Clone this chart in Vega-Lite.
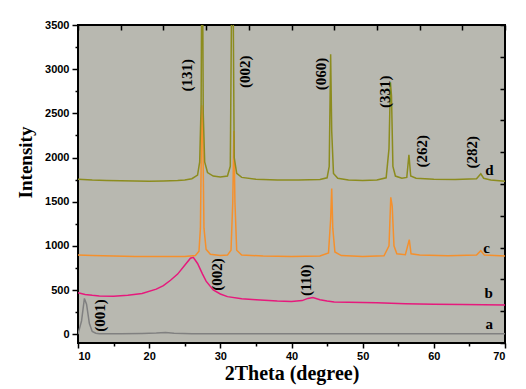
{
  "$schema": "https://vega.github.io/schema/vega-lite/v6.json",
  "width": 427,
  "height": 318,
  "autosize": {"type": "none"},
  "padding": {"left": 78, "top": 25, "right": 21, "bottom": 46},
  "background": "white",
  "config": {
    "view": {"fill": "#b8b8b0", "stroke": "black", "strokeWidth": 2},
    "axis": {"domain": false, "tickColor": "black", "labelColor": "black", "labelFont": "Liberation Sans", "labelFontWeight": "bold", "labelFontSize": 11, "grid": false, "tickWidth": 1.5}
  },
  "datasets": {
    "curves": [
      {"s":"a","x":10,"y":0},{"s":"a","x":10.5,"y":150},{"s":"a","x":10.9,"y":405},{"s":"a","x":11.2,"y":340},{"s":"a","x":11.6,"y":120},{"s":"a","x":12,"y":30},{"s":"a","x":12.5,"y":10},{"s":"a","x":13,"y":5},{"s":"a","x":16,"y":5},{"s":"a","x":19,"y":8},{"s":"a","x":21,"y":12},{"s":"a","x":22.3,"y":18},{"s":"a","x":23.5,"y":10},{"s":"a","x":26,"y":5},{"s":"a","x":35,"y":5},{"s":"a","x":45,"y":5},{"s":"a","x":55,"y":5},{"s":"a","x":70,"y":5},
      {"s":"b","x":10,"y":470},{"s":"b","x":11,"y":450},{"s":"b","x":12,"y":440},{"s":"b","x":13,"y":432},{"s":"b","x":15,"y":430},{"s":"b","x":17,"y":440},{"s":"b","x":19,"y":460},{"s":"b","x":21,"y":510},{"s":"b","x":22,"y":550},{"s":"b","x":23,"y":610},{"s":"b","x":24,"y":680},{"s":"b","x":25,"y":780},{"s":"b","x":25.8,"y":860},{"s":"b","x":26.2,"y":870},{"s":"b","x":26.8,"y":800},{"s":"b","x":27.5,"y":680},{"s":"b","x":28,"y":600},{"s":"b","x":29,"y":500},{"s":"b","x":30,"y":455},{"s":"b","x":31,"y":425},{"s":"b","x":33,"y":400},{"s":"b","x":35,"y":390},{"s":"b","x":38,"y":375},{"s":"b","x":40,"y":370},{"s":"b","x":41.5,"y":380},{"s":"b","x":42.3,"y":405},{"s":"b","x":43,"y":415},{"s":"b","x":44,"y":390},{"s":"b","x":45,"y":375},{"s":"b","x":46,"y":365},{"s":"b","x":48,"y":360},{"s":"b","x":52,"y":355},{"s":"b","x":56,"y":345},{"s":"b","x":60,"y":340},{"s":"b","x":64,"y":335},{"s":"b","x":70,"y":330},
      {"s":"c","x":10,"y":895},{"s":"c","x":12,"y":890},{"s":"c","x":15,"y":885},{"s":"c","x":18,"y":880},{"s":"c","x":20,"y":878},{"s":"c","x":23,"y":878},{"s":"c","x":25,"y":880},{"s":"c","x":26.5,"y":890},{"s":"c","x":27,"y":940},{"s":"c","x":27.2,"y":1200},{"s":"c","x":27.4,"y":2590},{"s":"c","x":27.55,"y":2200},{"s":"c","x":27.7,"y":1200},{"s":"c","x":28,"y":960},{"s":"c","x":28.6,"y":905},{"s":"c","x":30,"y":890},{"s":"c","x":31,"y":895},{"s":"c","x":31.5,"y":950},{"s":"c","x":31.75,"y":1500},{"s":"c","x":31.9,"y":2300},{"s":"c","x":32.05,"y":1500},{"s":"c","x":32.3,"y":950},{"s":"c","x":33,"y":895},{"s":"c","x":36,"y":885},{"s":"c","x":40,"y":880},{"s":"c","x":44,"y":885},{"s":"c","x":45.2,"y":920},{"s":"c","x":45.5,"y":1300},{"s":"c","x":45.65,"y":1650},{"s":"c","x":45.8,"y":1200},{"s":"c","x":46.1,"y":930},{"s":"c","x":47,"y":890},{"s":"c","x":50,"y":880},{"s":"c","x":53,"y":888},{"s":"c","x":53.7,"y":1000},{"s":"c","x":53.95,"y":1550},{"s":"c","x":54.15,"y":1450},{"s":"c","x":54.4,"y":1000},{"s":"c","x":54.8,"y":910},{"s":"c","x":56,"y":900},{"s":"c","x":56.55,"y":1070},{"s":"c","x":56.8,"y":910},{"s":"c","x":58,"y":895},{"s":"c","x":62,"y":888},{"s":"c","x":66,"y":895},{"s":"c","x":66.6,"y":945},{"s":"c","x":67.1,"y":895},{"s":"c","x":70,"y":885},
      {"s":"d","x":10,"y":1755},{"s":"d","x":12,"y":1745},{"s":"d","x":14,"y":1740},{"s":"d","x":16,"y":1738},{"s":"d","x":18,"y":1735},{"s":"d","x":20,"y":1732},{"s":"d","x":22,"y":1735},{"s":"d","x":24,"y":1740},{"s":"d","x":25,"y":1745},{"s":"d","x":26,"y":1760},{"s":"d","x":26.8,"y":1800},{"s":"d","x":27.1,"y":1950},{"s":"d","x":27.3,"y":2600},{"s":"d","x":27.45,"y":5000},{"s":"d","x":27.6,"y":2500},{"s":"d","x":27.8,"y":1950},{"s":"d","x":28.2,"y":1830},{"s":"d","x":29,"y":1790},{"s":"d","x":30,"y":1780},{"s":"d","x":31,"y":1790},{"s":"d","x":31.4,"y":1900},{"s":"d","x":31.7,"y":5000},{"s":"d","x":31.95,"y":2000},{"s":"d","x":32.3,"y":1820},{"s":"d","x":33,"y":1775},{"s":"d","x":35,"y":1755},{"s":"d","x":38,"y":1745},{"s":"d","x":41,"y":1745},{"s":"d","x":44,"y":1750},{"s":"d","x":45,"y":1770},{"s":"d","x":45.3,"y":1900},{"s":"d","x":45.5,"y":3170},{"s":"d","x":45.65,"y":2300},{"s":"d","x":45.9,"y":1820},{"s":"d","x":46.5,"y":1765},{"s":"d","x":48,"y":1745},{"s":"d","x":50,"y":1740},{"s":"d","x":52,"y":1745},{"s":"d","x":53.3,"y":1770},{"s":"d","x":53.7,"y":2100},{"s":"d","x":53.9,"y":2850},{"s":"d","x":54.05,"y":2700},{"s":"d","x":54.25,"y":1900},{"s":"d","x":54.6,"y":1790},{"s":"d","x":55.5,"y":1765},{"s":"d","x":56.2,"y":1775},{"s":"d","x":56.5,"y":2030},{"s":"d","x":56.75,"y":1790},{"s":"d","x":57.5,"y":1765},{"s":"d","x":60,"y":1755},{"s":"d","x":63,"y":1750},{"s":"d","x":66,"y":1760},{"s":"d","x":66.6,"y":1815},{"s":"d","x":67,"y":1765},{"s":"d","x":68,"y":1745},{"s":"d","x":70,"y":1730}
    ],
    "peaks": [
      {"t":"(131)","x":25.3,"y":2930},{"t":"(002)","x":33.5,"y":2970},{"t":"(060)","x":44.1,"y":2945},{"t":"(331)","x":53.1,"y":2745},{"t":"(262)","x":58.4,"y":2070},{"t":"(282)","x":65.3,"y":2060},{"t":"(002)","x":29.6,"y":675},{"t":"(110)","x":42.0,"y":610},{"t":"(001)","x":13.1,"y":210}
    ],
    "letters": [
      {"t":"d","x":67.8,"y":1855},{"t":"c","x":67.4,"y":970},{"t":"b","x":67.7,"y":470},{"t":"a","x":67.8,"y":115}
    ]
  },
  "layer": [
    {
      "data": {"name": "curves"},
      "mark": {"type": "line", "strokeWidth": 1.5, "clip": true},
      "encoding": {
        "x": {"field": "x", "type": "quantitative", "scale": {"domain": [10, 70], "nice": false},
          "axis": {"orient": "bottom", "values": [10,15,20,25,30,35,40,45,50,55,60,65,70], "labelExpr": "datum.value % 10 === 0 ? datum.label : ''",
            "tickSize": {"condition": {"test": "datum.value % 10 === 0", "value": 5}, "value": 3},
            "labelPadding": 2, "title": "2Theta (degree)", "titleFont": "Liberation Serif", "titleFontSize": 20, "titleFontWeight": "bold", "titlePadding": 2}},
        "y": {"field": "y", "type": "quantitative", "scale": {"domain": [-100, 3500], "nice": false, "zero": false},
          "axis": {"orient": "left", "values": [0,250,500,750,1000,1250,1500,1750,2000,2250,2500,2750,3000,3250,3500], "labelExpr": "datum.value % 500 === 0 ? datum.label : ''",
            "tickSize": {"condition": {"test": "datum.value % 500 === 0", "value": 6}, "value": 3},
            "format": "d", "labelPadding": 3, "title": "Intensity", "titleFont": "Liberation Serif", "titleFontSize": 19, "titleFontWeight": "bold",
            "titleX": -53, "titleY": 137, "titleAngle": 270, "titleAlign": "center", "titleBaseline": "middle"}},
        "color": {"field": "s", "type": "nominal", "scale": {"domain": ["a","b","c","d"], "range": ["#808080","#e6197c","#f5902c","#8c8c1e"]}, "legend": null}
      }
    },
    {
      "data": {"name": "peaks"},
      "mark": {"type": "text", "angle": 270, "font": "Liberation Serif", "fontWeight": "bold", "fontSize": 15, "align": "center", "baseline": "middle", "color": "black"},
      "encoding": {
        "x": {"field": "x", "type": "quantitative", "axis": {"orient": "top", "values": [10,16,22,28,34,40,46,52,58,64,70], "labels": false, "tickSize": -5, "title": null}},
        "y": {"field": "y", "type": "quantitative", "axis": {"orient": "right", "values": [-100,260,620,980,1340,1700,2060,2420,2780,3140,3500], "labels": false, "tickSize": -5, "title": null}},
        "text": {"field": "t"}
      }
    },
    {
      "data": {"name": "letters"},
      "mark": {"type": "text", "font": "Liberation Serif", "fontWeight": "bold", "fontSize": 15, "align": "center", "baseline": "middle", "color": "black"},
      "encoding": {
        "x": {"field": "x", "type": "quantitative", "axis": null},
        "y": {"field": "y", "type": "quantitative", "axis": null},
        "text": {"field": "t"}
      }
    }
  ],
  "resolve": {"axis": {"x": "independent", "y": "independent"}}
}
